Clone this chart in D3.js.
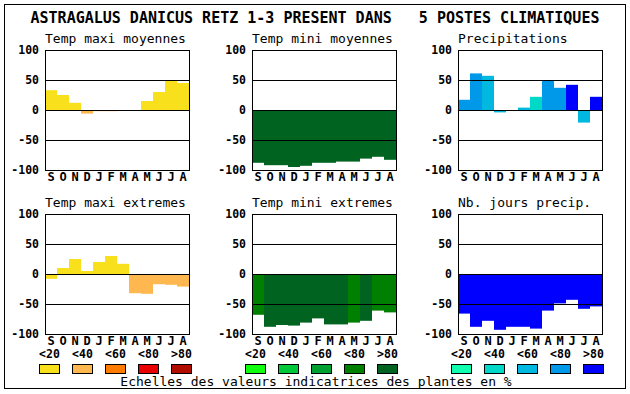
<!DOCTYPE html>
<html>
<head>
<meta charset="utf-8">
<script src="https://cdn.jsdelivr.net/npm/d3@7"></script>
<style>
  body { margin: 0; background: #fff; }
  text { font-family: 'DejaVu Sans Mono', 'Liberation Mono', monospace; fill: #000; white-space: pre; }
  .tick { font-size: 11.5px; font-weight: bold; }
  .month { font-size: 12px; font-weight: bold; }
</style>
</head>
<body>
<div id="chart"></div>
<script>
let months = ['S', 'O', 'N', 'D', 'J', 'F', 'M', 'A', 'M', 'J', 'J', 'A']
let ticks = [100, 50, 0, -50, -100]
let scaleLabels = ['<20', '<40', '<60', '<80', '>80']

let warmColors = ['#f8e01c', '#ffb850', '#ff7c00', '#e80000', '#b00c00']
let greenColors = ['#10ff10', '#00c838', '#00a030', '#008000', '#006420']
let blueColors = ['#10ffb0', '#00d8c8', '#00b8e0', '#0098e8', '#0000ff']

let title = 'ASTRAGALUS DANICUS RETZ 1-3 PRESENT DANS   5 POSTES CLIMATIQUES'
let caption = 'Echelles des valeurs indicatrices des plantes en %'

// values and colour class (0..4) per month
let tmaxMoyValues = [33, 25, 12, -6, -2, -2, 0, 0, 15, 30, 49, 45]
let tmaxMoyClass = [0, 0, 0, 1, 1, 1, 0, 0, 0, 0, 0, 0]
let tminMoyValues = [-88, -92, -92, -95, -93, -88, -88, -86, -86, -81, -78, -83]
let tminMoyClass = [4, 4, 4, 4, 4, 4, 4, 4, 4, 4, 4, 4]
let precipValues = [17, 61, 57, -4, 0, 4, 22, 50, 37, 42, -21, 22]
let precipClass = [3, 3, 2, 2, 2, 2, 1, 3, 3, 4, 2, 4]
let tmaxExtValues = [-8, 10, 25, 5, 20, 30, 17, -32, -33, -17, -18, -21]
let tmaxExtClass = [0, 0, 0, 0, 0, 0, 0, 1, 1, 1, 1, 1]
let tminExtValues = [-68, -88, -85, -86, -81, -74, -84, -84, -81, -78, -61, -64]
let tminExtClass = [3, 4, 4, 4, 4, 4, 4, 4, 3, 4, 3, 3]
let joursValues = [-66, -88, -78, -93, -88, -88, -91, -61, -49, -43, -58, -54]
let joursClass = [4, 4, 4, 4, 4, 4, 4, 4, 4, 4, 4, 4]

let panels = [
  { name: 'Temp maxi moyennes', values: tmaxMoyValues, cls: tmaxMoyClass, colors: warmColors, col: 0, row: 0 },
  { name: 'Temp mini moyennes', values: tminMoyValues, cls: tminMoyClass, colors: greenColors, col: 1, row: 0 },
  { name: 'Precipitations', values: precipValues, cls: precipClass, colors: blueColors, col: 2, row: 0 },
  { name: 'Temp maxi extremes', values: tmaxExtValues, cls: tmaxExtClass, colors: warmColors, col: 0, row: 1 },
  { name: 'Temp mini extremes', values: tminExtValues, cls: tminExtClass, colors: greenColors, col: 1, row: 1 },
  { name: 'Nb. jours precip.', values: joursValues, cls: joursClass, colors: blueColors, col: 2, row: 1 }
]

let W = 630
let H = 394
let colLeft = [45, 252, 458]
let rowTop = [50, 214]
let pw = 144
let ph = 120

let svg = d3.select('#chart').append('svg')
  .attr('width', W)
  .attr('height', H)

svg.append('rect')
  .attr('x', 4.5).attr('y', 4.5)
  .attr('width', 621).attr('height', 384)
  .attr('fill', 'none').attr('stroke', '#000')

svg.append('text')
  .attr('x', 315).attr('y', 23)
  .attr('text-anchor', 'middle')
  .style('font-size', '15px')
  .style('font-weight', 'bold')
  .text(title)

panels.forEach((p) => {
  let x0 = colLeft[p.col]
  let y0 = rowTop[p.row]
  let g = svg.append('g').attr('transform', 'translate(' + x0 + ',' + y0 + ')')

  let x = d3.scaleBand().domain(d3.range(12)).range([0, pw])
  let y = d3.scaleLinear().domain([-100, 100]).range([ph, 0])

  g.append('text')
    .attr('x', 0).attr('y', -7)
    .style('font-size', '13px')
    .text(p.name)

  g.selectAll('.bar')
    .data(p.values)
    .enter().append('rect')
    .attr('class', 'bar')
    .attr('x', (d, i) => x(i))
    .attr('width', x.bandwidth())
    .attr('y', (d) => y(Math.max(0, d)))
    .attr('height', (d) => Math.abs(y(d) - y(0)))
    .attr('fill', (d, i) => p.colors[p.cls[i]])

  g.selectAll('.grid')
    .data([50, 0, -50])
    .enter().append('line')
    .attr('x1', 0).attr('x2', pw)
    .attr('y1', (d) => Math.round(y(d)) + 0.5)
    .attr('y2', (d) => Math.round(y(d)) + 0.5)
    .attr('stroke', '#000')

  g.append('rect')
    .attr('x', 0.5).attr('y', 0.5)
    .attr('width', pw).attr('height', ph)
    .attr('fill', 'none').attr('stroke', '#000')

  g.selectAll('.tick')
    .data(ticks)
    .enter().append('text')
    .attr('class', 'tick')
    .attr('x', -6)
    .attr('y', (d) => y(d))
    .attr('dy', '0.35em')
    .attr('text-anchor', 'end')
    .text((d) => d)

  g.selectAll('.month')
    .data(months)
    .enter().append('text')
    .attr('class', 'month')
    .attr('x', (d, i) => x(i) + x.bandwidth() / 2)
    .attr('y', ph + 11)
    .attr('text-anchor', 'middle')
    .text((d) => d)
})

// colour scale legends
let legendLeft = [39, 245, 451]
let legendStep = 33
let legendColors = [warmColors, greenColors, blueColors]
legendColors.forEach((colors, k) => {
  let lx = d3.scaleLinear().domain([0, 4]).range([legendLeft[k], legendLeft[k] + 4 * legendStep])
  let lg = svg.append('g')
  lg.selectAll('rect')
    .data(colors)
    .enter().append('rect')
    .attr('x', (d, i) => Math.round(lx(i)) + 0.5)
    .attr('y', 364.5)
    .attr('width', 20).attr('height', 9)
    .attr('fill', (d) => d)
    .attr('stroke', '#000')
  lg.selectAll('text')
    .data(scaleLabels)
    .enter().append('text')
    .attr('class', 'tick')
    .attr('x', (d, i) => Math.round(lx(i)) + 10.5)
    .attr('y', 358)
    .attr('text-anchor', 'middle')
    .text((d) => d)
})

svg.append('text')
  .attr('x', 316).attr('y', 386)
  .attr('text-anchor', 'middle')
  .style('font-size', '13px')
  .text(caption)
</script>
</body>
</html>
